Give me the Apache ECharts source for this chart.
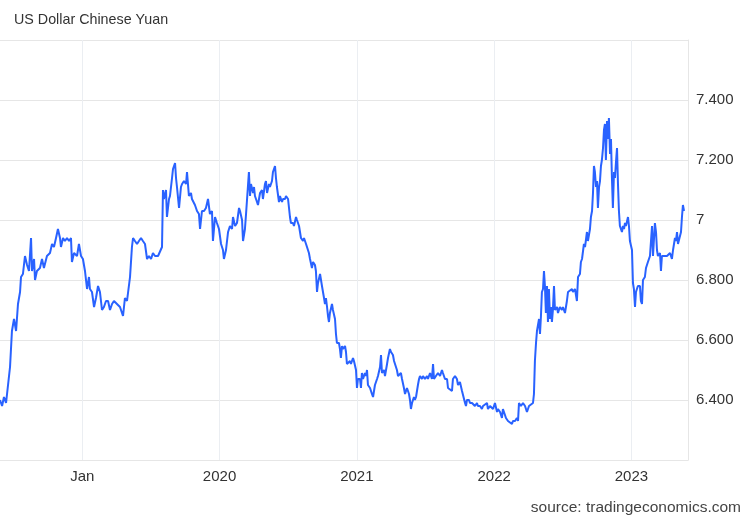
<!DOCTYPE html>
<html><head><meta charset="utf-8">
<script src="https://cdn.jsdelivr.net/npm/echarts/dist/echarts.min.js"></script>
<style>html,body{margin:0;padding:0;background:#fff}#c{width:750px;height:520px}</style>
</head><body><div id="c"></div>
<script>
const chartTitle = 'US Dollar Chinese Yuan';
const sourceText = 'source: tradingeconomics.com';

// time as decimal years
const years = [
2018.401,2018.416,2018.430,2018.445,2018.459,2018.474,2018.488,2018.503,2018.518,2018.532,
2018.547,2018.554,2018.568,2018.583,2018.598,2018.612,2018.627,2018.634,2018.649,2018.656,
2018.670,2018.692,2018.707,2018.721,2018.743,2018.765,2018.780,2018.794,2018.809,2018.823,
2018.838,2018.845,2018.860,2018.874,2018.889,2018.904,2018.918,2018.925,2018.940,2018.962,
2018.976,2018.991,2019.005,2019.020,2019.035,2019.049,2019.056,2019.071,2019.086,2019.100,
2019.115,2019.129,2019.144,2019.158,2019.173,2019.188,2019.202,2019.217,2019.231,2019.253,
2019.275,2019.297,2019.311,2019.326,2019.348,2019.362,2019.370,2019.384,2019.399,2019.413,
2019.428,2019.442,2019.457,2019.472,2019.486,2019.501,2019.515,2019.530,2019.552,2019.566,
2019.581,2019.588,2019.595,2019.610,2019.617,2019.632,2019.639,2019.654,2019.661,2019.676,
2019.683,2019.690,2019.705,2019.719,2019.727,2019.741,2019.756,2019.763,2019.777,2019.792,
2019.799,2019.821,2019.836,2019.850,2019.858,2019.872,2019.887,2019.901,2019.916,2019.930,
2019.945,2019.952,2019.967,2019.981,2019.996,2020.011,2020.025,2020.032,2020.047,2020.062,
2020.076,2020.091,2020.098,2020.113,2020.127,2020.142,2020.149,2020.164,2020.171,2020.185,
2020.193,2020.200,2020.214,2020.222,2020.229,2020.244,2020.251,2020.258,2020.273,2020.280,
2020.295,2020.309,2020.316,2020.331,2020.338,2020.346,2020.360,2020.367,2020.382,2020.389,
2020.404,2020.411,2020.418,2020.433,2020.440,2020.455,2020.462,2020.477,2020.484,2020.499,
2020.513,2020.520,2020.535,2020.542,2020.557,2020.564,2020.579,2020.586,2020.593,2020.608,
2020.615,2020.630,2020.637,2020.651,2020.659,2020.673,2020.681,2020.695,2020.702,2020.710,
2020.717,2020.732,2020.739,2020.746,2020.761,2020.768,2020.775,2020.783,2020.790,2020.797,
2020.804,2020.819,2020.826,2020.841,2020.848,2020.855,2020.870,2020.877,2020.884,2020.892,
2020.899,2020.914,2020.921,2020.928,2020.935,2020.950,2020.957,2020.972,2020.979,2020.994,
2021.001,2021.008,2021.023,2021.030,2021.037,2021.045,2021.059,2021.067,2021.074,2021.081,
2021.096,2021.110,2021.118,2021.132,2021.147,2021.154,2021.169,2021.176,2021.183,2021.198,
2021.205,2021.220,2021.227,2021.241,2021.249,2021.263,2021.271,2021.285,2021.292,2021.300,
2021.314,2021.321,2021.329,2021.343,2021.351,2021.358,2021.365,2021.380,2021.387,2021.394,
2021.402,2021.416,2021.423,2021.431,2021.445,2021.453,2021.460,2021.474,2021.482,2021.496,
2021.511,2021.518,2021.533,2021.547,2021.555,2021.562,2021.576,2021.591,2021.606,2021.620,
2021.627,2021.642,2021.657,2021.664,2021.678,2021.693,2021.700,2021.715,2021.729,2021.737,
2021.751,2021.766,2021.773,2021.788,2021.795,2021.802,2021.817,2021.824,2021.839,2021.846,
2021.860,2021.875,2021.882,2021.897,2021.911,2021.919,2021.933,2021.948,2021.955,2021.970,
2021.984,2021.992,2022.006,2022.021,2022.028,2022.043,2022.057,2022.064,2022.079,2022.086,
2022.101,2022.115,2022.130,2022.137,2022.152,2022.166,2022.174,2022.181,2022.195,2022.210,
2022.225,2022.239,2022.254,2022.268,2022.283,2022.290,2022.297,2022.305,2022.312,2022.327,
2022.334,2022.341,2022.348,2022.356,2022.363,2022.370,2022.377,2022.385,2022.392,2022.399,
2022.407,2022.414,2022.421,2022.428,2022.436,2022.443,2022.458,2022.465,2022.479,2022.494,
2022.501,2022.516,2022.530,2022.538,2022.552,2022.567,2022.574,2022.589,2022.603,2022.611,
2022.625,2022.632,2022.640,2022.654,2022.662,2022.676,2022.683,2022.698,2022.705,2022.713,
2022.720,2022.727,2022.734,2022.742,2022.749,2022.756,2022.764,2022.771,2022.778,2022.785,
2022.793,2022.800,2022.807,2022.814,2022.822,2022.829,2022.836,2022.844,2022.851,2022.858,
2022.865,2022.873,2022.880,2022.887,2022.895,2022.902,2022.909,2022.916,2022.931,2022.938,
2022.946,2022.953,2022.960,2022.975,2022.982,2022.989,2023.004,2023.011,2023.018,2023.026,
2023.033,2023.047,2023.062,2023.069,2023.077,2023.084,2023.098,2023.106,2023.120,2023.135,
2023.150,2023.157,2023.171,2023.179,2023.186,2023.193,2023.208,2023.215,2023.222,2023.237,
2023.244,2023.259,2023.273,2023.281,2023.295,2023.303,2023.317,2023.324,2023.332,2023.339,
2023.353,2023.361,2023.368,2023.375,2023.383
];

// USD/CNY rate
const rates = [
6.40,6.38,6.41,6.39,6.39,6.51,6.63,6.67,6.63,6.72,
6.76,6.81,6.82,6.88,6.85,6.83,6.94,6.83,6.87,6.80,
6.83,6.84,6.87,6.84,6.88,6.89,6.92,6.91,6.94,6.97,
6.94,6.91,6.94,6.93,6.94,6.93,6.94,6.86,6.89,6.88,
6.92,6.88,6.87,6.83,6.77,6.81,6.77,6.76,6.71,6.74,
6.78,6.76,6.70,6.71,6.73,6.73,6.70,6.72,6.73,6.72,
6.71,6.68,6.74,6.73,6.81,6.91,6.94,6.93,6.92,6.93,
6.94,6.93,6.92,6.87,6.88,6.87,6.89,6.88,6.88,6.88,
6.91,7.10,7.07,7.10,7.01,7.07,7.08,7.14,7.17,7.19,
7.14,7.11,7.04,7.11,7.12,7.13,7.12,7.16,7.08,7.09,
7.07,7.05,7.03,7.02,6.97,7.03,7.03,7.04,7.07,7.02,
7.03,6.93,7.01,6.99,6.97,6.92,6.90,6.87,6.90,6.96,
6.98,6.97,7.01,6.98,6.99,7.04,7.03,7.00,6.93,6.97,
7.02,7.02,7.16,7.08,7.12,7.09,7.11,7.08,7.06,7.05,
7.09,7.10,7.07,7.12,7.13,7.09,7.12,7.11,7.13,7.16,
7.18,7.14,7.11,7.06,7.08,7.06,7.07,7.07,7.08,7.07,
7.01,6.99,6.99,6.98,7.01,7.00,6.98,6.96,6.94,6.93,
6.94,6.92,6.91,6.89,6.87,6.84,6.86,6.85,6.83,6.76,
6.79,6.82,6.82,6.78,6.74,6.72,6.74,6.71,6.68,6.66,
6.69,6.72,6.70,6.67,6.62,6.59,6.59,6.57,6.54,6.58,
6.57,6.58,6.56,6.52,6.52,6.53,6.52,6.54,6.53,6.50,
6.44,6.47,6.47,6.44,6.49,6.47,6.49,6.48,6.50,6.45,
6.44,6.42,6.41,6.45,6.47,6.48,6.51,6.55,6.49,6.50,
6.48,6.52,6.54,6.57,6.56,6.55,6.53,6.51,6.50,6.48,
6.48,6.49,6.47,6.44,6.42,6.43,6.44,6.42,6.40,6.37,
6.39,6.41,6.40,6.41,6.45,6.47,6.48,6.47,6.48,6.47,
6.48,6.47,6.49,6.47,6.52,6.47,6.48,6.49,6.48,6.50,
6.49,6.47,6.47,6.44,6.44,6.43,6.47,6.48,6.47,6.45,
6.46,6.43,6.43,6.39,6.38,6.40,6.40,6.39,6.39,6.39,
6.38,6.39,6.38,6.38,6.37,6.38,6.38,6.39,6.37,6.38,
6.38,6.37,6.39,6.36,6.37,6.36,6.34,6.37,6.35,6.34,
6.33,6.33,6.32,6.33,6.33,6.34,6.33,6.39,6.38,6.39,
6.38,6.36,6.38,6.38,6.39,6.42,6.53,6.59,6.63,6.67,
6.62,6.68,6.76,6.77,6.83,6.78,6.69,6.78,6.66,6.77,
6.67,6.71,6.66,6.70,6.78,6.70,6.71,6.69,6.71,6.70,
6.71,6.69,6.73,6.76,6.76,6.77,6.76,6.77,6.73,6.81,
6.82,6.86,6.87,6.92,6.91,6.96,6.93,6.97,7.01,7.03,
7.09,7.18,7.16,7.11,7.13,7.04,7.11,7.13,7.18,7.20,
7.24,7.30,7.32,7.20,7.33,7.27,7.34,7.22,7.27,7.14,
7.04,7.16,7.14,7.19,7.24,7.12,7.03,6.98,6.96,6.98,
6.97,6.99,6.98,7.01,6.98,6.93,6.90,6.79,6.77,6.71,
6.76,6.78,6.78,6.73,6.72,6.80,6.81,6.84,6.86,6.88,
6.98,6.88,6.99,6.96,6.90,6.88,6.89,6.83,6.88,6.88,
6.88,6.88,6.88,6.89,6.87,6.90,6.94,6.93,6.96,6.92,
6.92,6.96,7.01,7.05,7.03
];

const xTickValues = [2019, 2020, 2021, 2022, 2023];
const xTickLabels = ['Jan', '2020', '2021', '2022', '2023'];
const yTickValues = [6.4, 6.6, 6.8, 7, 7.2, 7.4];
const yTickLabels = ['6.400', '6.600', '6.800', '7', '7.200', '7.400'];

function lookup(values, labels, v) {
  for (let i = 0; i < values.length; i++) {
    if (Math.abs(values[i] - v) < 1e-6) return labels[i];
  }
  return '';
}

const FONT = '"Liberation Sans", Arial, sans-serif';
const chart = echarts.init(document.getElementById('c'), null, {renderer: 'canvas'});
chart.setOption({
  animation: false,
  backgroundColor: '#ffffff',
  textStyle: {fontFamily: FONT},
  title: [
    {text: chartTitle, left: 14, top: 13, padding: 0,
     textStyle: {fontSize: 14.3, fontWeight: 'normal', color: '#333333', fontFamily: FONT}},
    {text: sourceText, right: 9, top: 500, padding: 0,
     textStyle: {fontSize: 15.5, fontWeight: 'normal', color: '#444444', fontFamily: FONT}}
  ],
  grid: {left: 0, right: 62, top: 40, bottom: 60},
  xAxis: {
    type: 'value', min: 2018.401, max: 2023.412,
    axisLine: {show: true, onZero: false, lineStyle: {color: '#e6e6e6', width: 1}},
    axisTick: {show: false, customValues: xTickValues},
    axisLabel: {
      customValues: xTickValues,
      formatter: v => lookup(xTickValues, xTickLabels, v),
      color: '#333333', fontSize: 15, margin: 9, fontFamily: FONT
    },
    splitLine: {show: true, lineStyle: {color: '#ebeef2', width: 1}}
  },
  yAxis: {
    type: 'value', position: 'right', min: 6.2, max: 7.6, interval: 0.2,
    axisLine: {show: true, lineStyle: {color: '#e6e6e6', width: 1}},
    axisTick: {show: false},
    axisLabel: {
      customValues: yTickValues,
      formatter: v => lookup(yTickValues, yTickLabels, v),
      color: '#333333', fontSize: 15, margin: 8, fontFamily: FONT
    },
    splitLine: {show: true, lineStyle: {color: '#e6e6e6', width: 1}}
  },
  series: [{
    type: 'line',
    data: years.map((y, i) => [y, rates[i]]),
    showSymbol: false,
    symbol: 'none',
    lineStyle: {color: '#2962ff', width: 2},
    itemStyle: {color: '#2962ff'}
  }]
});
</script>
</body></html>
